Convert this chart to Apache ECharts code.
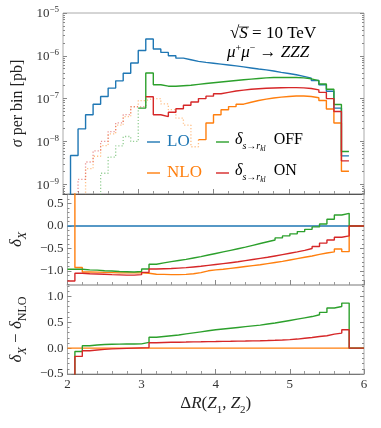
<!DOCTYPE html>
<html><head><meta charset="utf-8">
<script src="https://cdn.jsdelivr.net/npm/echarts@6/dist/echarts.min.js"></script>
<style>html,body{margin:0;padding:0;background:#fff}#c{width:381px;height:428px}</style>
</head><body><div id="c"></div>
<script>
// ---------- data ----------
const binStarts = [2.0,2.1,2.2,2.3,2.4,2.5,2.6,2.7,2.8,2.9,3.0,3.1,3.2,3.3,3.4,3.5,3.6,3.7,3.8,3.9,
                   4.0,4.1,4.2,4.3,4.4,4.5,4.6,4.7,4.8,4.9,5.0,5.1,5.2,5.3,5.4,5.5,5.6,5.7];
const lastEdge = 5.8;
const ratioBinStarts = binStarts.concat([5.8]);
const axisEnd = 6.0;

// top panel: sigma per bin [pb]; negative values are drawn dotted as |sigma|
const sigmaLO  = [0,4.7e-9,1.96e-8,4.2e-8,7.4e-8,1.12e-7,1.76e-7,2.6e-7,3.9e-7,6.8e-7,1.33e-6,2.47e-6,1.44e-6,1.2e-6,1.0e-6,8.8e-7,8.1e-7,7.4e-7,7.0e-7,6.7e-7,
                  6.4e-7,6.1e-7,5.8e-7,5.5e-7,5.2e-7,4.9e-7,4.7e-7,4.4e-7,4.1e-7,3.85e-7,3.6e-7,3.3e-7,3.0e-7,2.65e-7,2.1e-7,1.48e-7,6.0e-8,4.6e-9];
const sigmaNLO = [0,3.8e-10,-4e-10,-2.3e-9,-4.5e-9,-8e-9,-1.5e-8,-2.4e-8,-3.8e-8,-6.5e-8,-9e-8,-1.0e-7,-1.0e-7,-7.5e-8,-5.5e-8,-3.5e-8,-2.4e-8,-7.5e-9,1.1e-8,2.7e-8,
                  4.2e-8,5.5e-8,6.5e-8,7.4e-8,8.2e-8,9e-8,9.7e-8,1.03e-7,1.08e-7,1.12e-7,1.15e-7,1.15e-7,1.12e-7,1.05e-7,9.0e-8,5.7e-8,2.7e-8,2.0e-9];
const sigmaOFF = [0,0,0,0,-3e-10,-1.8e-9,-4.3e-9,-7.9e-9,-1.3e-8,-1.0e-8,6.0e-8,3.95e-7,2.1e-7,1.95e-7,1.95e-7,2.0e-7,2.05e-7,2.15e-7,2.25e-7,2.35e-7,
                  2.45e-7,2.55e-7,2.65e-7,2.75e-7,2.85e-7,2.95e-7,3.05e-7,3.1e-7,3.12e-7,3.12e-7,3.1e-7,3.05e-7,2.9e-7,2.62e-7,2.2e-7,1.65e-7,7.3e-8,5.8e-9];
const sigmaON  = [0,-2.4e-10,-1.3e-9,-3.3e-9,-6e-9,-1.0e-8,-1.7e-8,-2.7e-8,-4.2e-8,-6.4e-8,-6.5e-8,1.1e-7,4.2e-8,3.8e-8,4.8e-8,5.8e-8,7.0e-8,8.3e-8,1.0e-7,1.14e-7,
                  1.3e-7,1.4e-7,1.5e-7,1.58e-7,1.65e-7,1.7e-7,1.74e-7,1.77e-7,1.79e-7,1.8e-7,1.8e-7,1.78e-7,1.72e-7,1.6e-7,1.4e-7,1.0e-7,5.0e-8,3.5e-9];

// middle panel: delta_X (last entry = bin 5.8-6.0)
const deltaLO  = [0,0,0,0,0,0,0,0,0,0,0,0,0,0,0,0,0,0,0,0,0,0,0,0,0,0,0,0,0,0,0,0,0,0,0,0,0,0,0];
const deltaNLO = [3,-0.92,-1.02,-1.025,-1.03,-1.035,-1.04,-1.04,-1.04,-1.04,-1.05,-1.07,-1.075,-1.08,-1.08,-1.075,-1.06,-1.035,-0.995,-0.975,
                  -0.96,-0.94,-0.92,-0.9,-0.88,-0.86,-0.835,-0.81,-0.785,-0.755,-0.725,-0.695,-0.665,-0.63,-0.6,-0.575,-0.51,-0.57,0];
const deltaOFF = [-0.96,-0.96,-0.975,-0.98,-0.995,-1.0,-1.01,-1.015,-1.02,-1.01,-0.955,-0.85,-0.82,-0.79,-0.765,-0.74,-0.71,-0.68,-0.645,-0.61,
                  -0.575,-0.54,-0.505,-0.47,-0.43,-0.39,-0.35,-0.31,-0.265,-0.22,-0.175,-0.125,-0.075,-0.02,0.045,0.15,0.245,0.28,0];
const deltaON  = [-1.22,-1.05,-1.06,-1.065,-1.07,-1.08,-1.085,-1.09,-1.09,-1.08,-1.03,-0.955,-0.95,-0.945,-0.935,-0.925,-0.91,-0.895,-0.875,-0.855,
                  -0.835,-0.815,-0.795,-0.77,-0.745,-0.72,-0.695,-0.665,-0.635,-0.605,-0.575,-0.54,-0.5,-0.455,-0.38,-0.31,-0.25,-0.22,0];

// bottom panel: delta_X - delta_NLO
const diffNLO = [0,0,0,0,0,0,0,0,0,0,0,0,0,0,0,0,0,0,0,0,0,0,0,0,0,0,0,0,0,0,0,0,0,0,0,0,0,0,0];
const diffOFF = [-2,-0.065,0.045,0.06,0.07,0.075,0.078,0.08,0.08,0.082,0.11,0.21,0.225,0.24,0.255,0.275,0.295,0.315,0.335,0.355,
                 0.37,0.385,0.4,0.415,0.43,0.445,0.465,0.485,0.51,0.535,0.56,0.585,0.61,0.645,0.69,0.775,0.805,0.87,0];
const diffON  = [-2,-0.16,-0.05,-0.035,-0.025,-0.015,-0.01,-0.005,0.0,0.005,0.01,0.105,0.11,0.113,0.115,0.117,0.12,0.122,0.125,0.127,
                 0.13,0.132,0.135,0.137,0.14,0.143,0.147,0.152,0.158,0.165,0.175,0.19,0.205,0.225,0.24,0.27,0.29,0.355,0];

// ticks
const xTicks = [2,3,4,5,6];
const topTicks = [1e-9,1e-8,1e-7,1e-6,1e-5];
const midTicks = [-1.0,-0.5,0.0,0.5];
const botTicks = [-0.5,0.0,0.5,1.0];

// ---------- styling ----------
const C = {LO:'#1f77b4', NLO:'#ff7f0e', OFF:'#2ca02c', ON:'#d62728'};
const FONT = 'Liberation Serif';
const FLOOR = 1e-12;
const TOP_MIN = 5.9e-10, TOP_MAX = 1e-5;
const MID_MIN = -1.31, MID_MAX = 0.71;
const BOT_MIN = -0.5, BOT_MAX = 1.22;

const topMinor = [];
for (let e = -10; e <= -6; e++) for (let k = 2; k <= 9; k++) { const v = k * Math.pow(10, e); if (v > TOP_MIN && v < TOP_MAX) topMinor.push(v); }
function linMinor(lo, hi, step) { const a = []; for (let v = Math.ceil(lo/step - 1e-9)*step; v <= hi + 1e-9; v += step) a.push(+v.toFixed(6)); return a; }

function subRich(big, small, pad) {
  return {
    i: {fontFamily: FONT, fontStyle: 'italic', fontSize: big, color: '#222', verticalAlign: 'bottom', padding: [0,0,pad,0]},
    n: {fontFamily: FONT, fontSize: big, color: '#222', verticalAlign: 'bottom', padding: [0,0,pad,0]},
    s: {fontFamily: FONT, fontStyle: 'italic', fontSize: small, color: '#222', verticalAlign: 'bottom'},
    r: {fontFamily: FONT, fontSize: small, color: '#222', verticalAlign: 'bottom'}
  };
}
const supRich = {
  b: {fontFamily: FONT, fontSize: 13, color: '#333', verticalAlign: 'bottom'},
  p: {fontFamily: FONT, fontSize: 9, color: '#333', verticalAlign: 'bottom', padding: [0,0,6,0]}
};
const numFmt = v => (v < 0 ? '\u2212' : '') + Math.abs(v).toFixed(1);

function yAxisSet(grid, type, min, max, major, minor, fmt, name, rich, labelRich, nameGap) {
  const base = {gridIndex: grid, type: type, min: min, max: max, splitLine: {show: false}, axisLine: {show: false}};
  if (type === 'log') base.logBase = 10;
  const tickStyle = {color: '#888', width: 1};
  return [
    Object.assign({}, base, {position: 'left', name: name, nameLocation: 'middle', nameGap: nameGap,
      nameTextStyle: {rich: rich, fontFamily: FONT, fontSize: 16, color: '#222'},
      axisTick: {show: true, inside: true, length: 4, customValues: major, lineStyle: tickStyle},
      axisLabel: {show: true, customValues: major, margin: 4, formatter: fmt, rich: labelRich,
                  fontFamily: FONT, fontSize: 13, color: '#333'}}),
    Object.assign({}, base, {position: 'left',
      axisTick: {show: true, inside: true, length: 2, customValues: minor, lineStyle: tickStyle},
      axisLabel: {show: false}}),
    Object.assign({}, base, {position: 'right',
      axisTick: {show: true, inside: true, length: 4, customValues: major, lineStyle: tickStyle},
      axisLabel: {show: false}}),
    Object.assign({}, base, {position: 'right',
      axisTick: {show: true, inside: true, length: 2, customValues: minor, lineStyle: tickStyle},
      axisLabel: {show: false}})
  ];
}

function xAxisDef(grid, lineColor, lineWidth, showLabels) {
  return {gridIndex: grid, type: 'value', min: 2, max: 6, interval: 1,
    axisLine: {show: true, onZero: false, lineStyle: {color: lineColor, width: lineWidth}},
    axisTick: {show: true, inside: true, length: 5, lineStyle: {color: '#888'}},
    minorTick: {show: true, splitNumber: 5, length: 3, lineStyle: {color: '#999'}},
    splitLine: {show: false}, minorSplitLine: {show: false},
    axisLabel: {show: showLabels, margin: 4, fontFamily: FONT, fontSize: 13, color: '#333',
                customValues: xTicks, formatter: v => String(Math.round(v))},
    name: showLabels ? '{n|\u0394}{i|R}{n|(}{i|Z}{r|1}{n|, }{i|Z}{r|2}{n|)}' : '',
    nameLocation: 'middle', nameGap: 21,
    nameTextStyle: {rich: subRich(17, 11, 4), fontFamily: FONT, fontSize: 17, color: '#222'}
  };
}

// ---------- series builders ----------
const N = binStarts.length;
function solidPts(vals) {
  const pts = vals.map((v, i) => [binStarts[i], v >= 0 ? Math.max(v, FLOOR) : null]);
  const lv = vals[N - 1];
  pts.push([lastEdge, lv >= 0 ? Math.max(lv, FLOOR) : null]);
  return pts;
}
function dottedPts(vals) {
  const pts = [];
  for (let i = 0; i < N; i++) {
    const v = vals[i];
    if (v < 0) {
      if (i > 0 && vals[i - 1] >= 0) pts.push([binStarts[i], Math.max(vals[i - 1], FLOOR)]);
      pts.push([binStarts[i], -v]);
    } else if (i > 0 && vals[i - 1] < 0) {
      pts.push([binStarts[i], Math.max(v, FLOOR)]);
      pts.push([binStarts[i], null]);
    }
  }
  return pts;
}
function ratioPts(vals) {
  const pts = vals.map((v, i) => [ratioBinStarts[i], v]);
  pts.push([axisEnd, vals[vals.length - 1]]);
  return pts;
}
function line(data, color, xi, yi, dotted) {
  return {type: 'line', data: data, xAxisIndex: xi, yAxisIndex: yi, step: 'end', symbol: 'none', showSymbol: false,
    clip: true, silent: true, animation: false, connectNulls: false,
    lineStyle: dotted ? {color: color, width: 1.3, type: [1.2, 2], opacity: 0.5} : {color: color, width: 1.4}};
}

const series = [];
[['NLO', sigmaNLO], ['OFF', sigmaOFF], ['ON', sigmaON]].forEach(([k, v]) => series.push(line(dottedPts(v), C[k], 0, 0, true)));
[['LO', sigmaLO], ['NLO', sigmaNLO], ['OFF', sigmaOFF], ['ON', sigmaON]].forEach(([k, v]) => series.push(line(solidPts(v), C[k], 0, 0, false)));
[['LO', deltaLO], ['NLO', deltaNLO], ['OFF', deltaOFF], ['ON', deltaON]].forEach(([k, v]) => series.push(line(ratioPts(v), C[k], 1, 4, false)));
[['NLO', diffNLO], ['OFF', diffOFF], ['ON', diffON]].forEach(([k, v]) => series.push(line(ratioPts(v), C[k], 2, 8, false)));

const topFmt = v => '{b|10}{p|\u2212' + Math.round(-Math.log10(v)) + '}';

const legendRich = col => ({
  d: {fontFamily: FONT, fontStyle: 'italic', fontSize: 16, color: col, verticalAlign: 'bottom', padding: [0,0,5,0]},
  s: {fontFamily: FONT, fontStyle: 'italic', fontSize: 10, color: col, verticalAlign: 'bottom', padding: [0,0,2,0]},
  k: {fontFamily: FONT, fontStyle: 'italic', fontSize: 7.5, color: col, verticalAlign: 'bottom'},
  n: {fontFamily: FONT, fontSize: 16, color: col, verticalAlign: 'bottom', padding: [0,0,5,0]}
});

const option = {
  backgroundColor: '#fff',
  animation: false,
  textStyle: {fontFamily: FONT},
  grid: [
    {left: 63, right: 17, top: 13, height: 181, show: true, borderColor: '#aaa', borderWidth: 1},
    {left: 63, right: 17, top: 194, height: 91, show: true, borderColor: '#aaa', borderWidth: 1},
    {left: 63, right: 17, top: 285, height: 89, show: true, borderColor: '#aaa', borderWidth: 1}
  ],
  xAxis: [xAxisDef(0, '#555', 1.2, false), xAxisDef(1, '#bbb', 2, false), xAxisDef(2, '#777', 1, true)],
  yAxis: [].concat(
    yAxisSet(0, 'log', TOP_MIN, TOP_MAX, topTicks, topMinor, topFmt, '{i|\u03c3}{n| per bin [pb]}', {
      i: {fontFamily: FONT, fontStyle: 'italic', fontSize: 16, color: '#222'},
      n: {fontFamily: FONT, fontSize: 16, color: '#222'}}, supRich, 30),
    yAxisSet(1, 'value', MID_MIN, MID_MAX, midTicks, linMinor(MID_MIN, MID_MAX, 0.1), numFmt, '{i|\u03b4}{s|X}', subRich(17, 12, 4), null, 30),
    yAxisSet(2, 'value', BOT_MIN, BOT_MAX, botTicks, linMinor(BOT_MIN, BOT_MAX, 0.1), numFmt, '{i|\u03b4}{s|X}{n| \u2212 }{i|\u03b4}{r|NLO}', subRich(17, 12, 4), null, 30)
  ),
  series: series,
  graphic: [
    {type: 'text', left: 230, top: 25, silent: true, style: {
      text: '{n|\u221a}{i|S}{n| = 10 TeV}',
      rich: {n: {fontFamily: FONT, fontSize: 17, color: '#222'}, i: {fontFamily: FONT, fontStyle: 'italic', fontSize: 17, color: '#222'}}}},
    {type: 'line', silent: true, shape: {x1: 239, y1: 27, x2: 249, y2: 27}, style: {stroke: '#222', lineWidth: 0.8}},
    {type: 'text', left: 227, top: 43, silent: true, style: {
      text: '{i|\u03bc}{p|+}{i|\u03bc}{p|\u2212}{n| \u2192 }{i|ZZZ}',
      rich: {n: {fontFamily: FONT, fontSize: 17, color: '#222', verticalAlign: 'bottom'},
             i: {fontFamily: FONT, fontStyle: 'italic', fontSize: 17, color: '#222', verticalAlign: 'bottom'},
             p: {fontFamily: FONT, fontSize: 10, color: '#222', verticalAlign: 'bottom', padding: [0,0,8,0]}}}},
    {type: 'line', silent: true, shape: {x1: 147, y1: 142, x2: 160, y2: 142}, style: {stroke: C.LO, lineWidth: 1.4}},
    {type: 'text', left: 167, top: 133, silent: true, style: {text: 'LO', fontFamily: FONT, fontSize: 17, fill: C.LO}},
    {type: 'line', silent: true, shape: {x1: 147, y1: 173, x2: 160, y2: 173}, style: {stroke: C.NLO, lineWidth: 1.4}},
    {type: 'text', left: 167, top: 164, silent: true, style: {text: 'NLO', fontFamily: FONT, fontSize: 17, fill: C.NLO}},
    {type: 'line', silent: true, shape: {x1: 216, y1: 142, x2: 229, y2: 142}, style: {stroke: C.OFF, lineWidth: 1.4}},
    {type: 'text', left: 235, top: 132, silent: true, style: {text: '{d|\u03b4}{s|s\u2192r}{k|kl}{n|  OFF}', rich: legendRich(C.OFF)}},
    {type: 'line', silent: true, shape: {x1: 216, y1: 173, x2: 229, y2: 173}, style: {stroke: C.ON, lineWidth: 1.4}},
    {type: 'text', left: 235, top: 163, silent: true, style: {text: '{d|\u03b4}{s|s\u2192r}{k|kl}{n|  ON}', rich: legendRich(C.ON)}}
  ]
};

const chart = echarts.init(document.getElementById('c'), null, {renderer: 'canvas', width: 381, height: 428});
chart.setOption(option);
</script></body></html>
